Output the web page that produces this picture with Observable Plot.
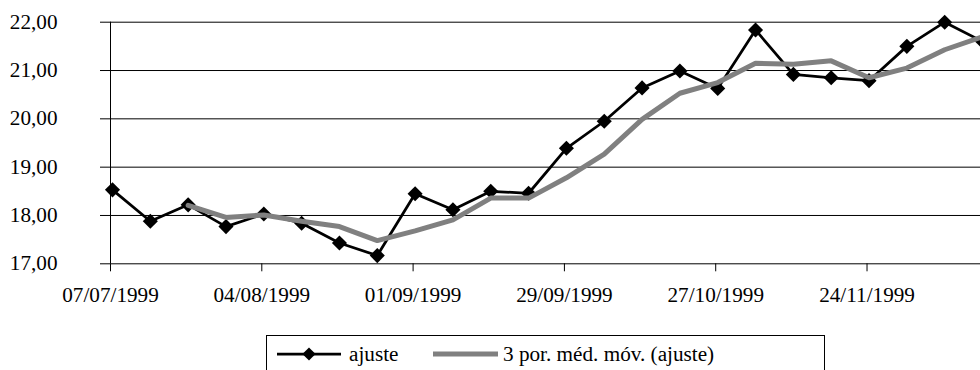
<!DOCTYPE html>
<html>
<head>
<meta charset="utf-8">
<script src="https://cdn.jsdelivr.net/npm/d3@7"></script>
<script src="https://cdn.jsdelivr.net/npm/@observablehq/plot@0.6"></script>
<style>
  html, body { margin: 0; padding: 0; background: #fff; overflow: hidden; }
  body { width: 980px; height: 370px; position: relative; font-family: "Liberation Serif", "DejaVu Serif", serif; }
  #chart svg { display: block; }
  #chart svg text { font-family: "Liberation Serif", "DejaVu Serif", serif; }
  #legend {
    position: absolute; left: 266px; top: 335px; width: 559px; height: 40px;
    border: 1px solid #000; box-sizing: border-box; background: #fff;
  }
  #legend svg { position: absolute; top: 0; }
  #legend .label {
    position: absolute; top: 6px; font-size: 20px; line-height: 24px; white-space: nowrap;
    transform: scaleX(1.06); transform-origin: left center; color: #000;
  }
</style>
</head>
<body>
<div id="chart"></div>
<div id="legend"></div>
<script>
// Weekly observation dates
const dates = [
  "1999-07-07", "1999-07-14", "1999-07-21", "1999-07-28",
  "1999-08-04", "1999-08-11", "1999-08-18", "1999-08-25",
  "1999-09-01", "1999-09-08", "1999-09-15", "1999-09-22",
  "1999-09-29", "1999-10-06", "1999-10-13", "1999-10-20",
  "1999-10-27", "1999-11-03", "1999-11-10", "1999-11-17",
  "1999-11-24", "1999-12-01", "1999-12-08", "1999-12-15"
];

// Series "ajuste"
const ajuste = [
  18.53, 17.88, 18.22, 17.77,
  18.03, 17.84, 17.43, 17.17,
  18.45, 18.12, 18.50, 18.46,
  19.39, 19.95, 20.64, 20.99,
  20.63, 21.84, 20.92, 20.85,
  20.79, 21.50, 22.00, 21.60
];

// 3-period moving average of "ajuste" (starts at the third week)
const mediaMovel = [
  null, null, 18.21, 17.96,
  18.01, 17.88, 17.77, 17.48,
  17.68, 17.91, 18.36, 18.36,
  18.78, 19.27, 19.99, 20.53,
  20.75, 21.15, 21.13, 21.20,
  20.85, 21.05, 21.43, 21.70
];

// Axis ticks
const yTicks = [17, 18, 19, 20, 21, 22];
const xTickDates = ["1999-07-07", "1999-08-04", "1999-09-01", "1999-09-29", "1999-10-27", "1999-11-24"];

// Legend labels
const seriesNames = ["ajuste", "3 por. méd. móv. (ajuste)"];

const parse = d3.utcParse("%Y-%m-%d");
const rows = dates.map((d, i) => ({date: parse(d), ajuste: ajuste[i], media: mediaMovel[i]}));
const mediaRows = rows.filter(d => d.media != null);
const xTicks = xTickDates.map(parse);
const fmtDate = d3.utcFormat("%d/%m/%Y");
const fmtNum = v => v.toFixed(2).replace(".", ",");

const chart = Plot.plot({
  width: 980,
  height: 320,
  marginLeft: 110,
  marginRight: 0,
  marginTop: 21.7,
  marginBottom: 56.7,
  x: {type: "utc", domain: [rows[0].date, rows[rows.length - 1].date]},
  y: {domain: [17, 22]},
  style: {fontFamily: "Liberation Serif, DejaVu Serif, serif", fontSize: "20px", color: "#000", background: "#fff", overflow: "visible"},
  marks: [
    Plot.gridY(yTicks, {stroke: "#000", strokeOpacity: 1, strokeWidth: 1}),
    Plot.axisY(yTicks, {tickSize: 10, tickPadding: 43, tickFormat: fmtNum, label: null, stroke: "#000"}),
    Plot.ruleX([rows[0].date], {stroke: "#000", strokeWidth: 1}),
    Plot.axisX(xTicks, {tickSize: 8, tickPadding: 16, tickFormat: fmtDate, label: null, stroke: "#000"}),
    Plot.lineY(rows, {x: "date", y: "ajuste", stroke: "#000", strokeWidth: 2.75, dx: 2}),
    Plot.dot(rows, {x: "date", y: "ajuste", symbol: "diamond2", r: 6.8, fill: "#000", stroke: "none", dx: 2}),
    Plot.lineY(mediaRows, {x: "date", y: "media", stroke: "#808080", strokeWidth: 5, dx: 2})
  ]
});
document.getElementById("chart").appendChild(chart);

// Slightly wider glyphs for the tick labels
d3.select(chart).selectAll("text").each(function () {
  const len = this.getComputedTextLength();
  if (len > 0) {
    this.setAttribute("textLength", (len * 1.06).toFixed(2));
    this.setAttribute("lengthAdjust", "spacingAndGlyphs");
  }
});

// Legend: series swatches and names inside a framed box
const legend = d3.select("#legend");
const sw1 = legend.append("svg").attr("width", 70).attr("height", 36).style("left", "9px");
sw1.append("line").attr("x1", 1).attr("x2", 65).attr("y1", 18).attr("y2", 18)
  .attr("stroke", "#000").attr("stroke-width", 2.75);
sw1.append("path").attr("d", d3.symbol(d3.symbolDiamond2, 110)()).attr("transform", "translate(33,18)").attr("fill", "#000");
legend.append("div").attr("class", "label").style("left", "82px").text(seriesNames[0]);

const sw2 = legend.append("svg").attr("width", 70).attr("height", 36).style("left", "165px");
sw2.append("line").attr("x1", 1).attr("x2", 66).attr("y1", 18).attr("y2", 18)
  .attr("stroke", "#808080").attr("stroke-width", 5);
legend.append("div").attr("class", "label").style("left", "236px").text(seriesNames[1]);
</script>
</body>
</html>
